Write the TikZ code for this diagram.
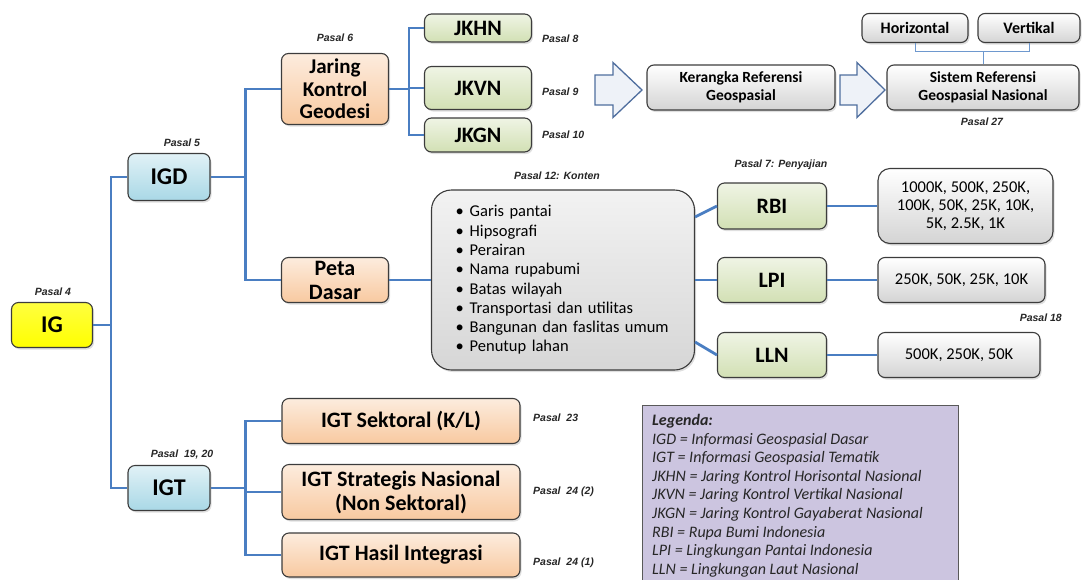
\documentclass[tikz,border=0pt]{standalone}
\usepackage{fontspec}
\setmainfont{Carlito}
\newfontfamily\pasalfont{Liberation Sans}
\usepackage{tikz}
\usetikzlibrary{shadows}
\definecolor{biruGaris}{HTML}{4A7EC2}
\definecolor{abuTepi}{HTML}{3C3C3C}
\definecolor{kuningIG}{HTML}{FFFF00}
\definecolor{biruMuda}{HTML}{A9D8E6}
\definecolor{oranyeMuda}{HTML}{F8C9A0}
\definecolor{hijauMuda}{HTML}{D2E0B4}
\definecolor{abuMuda}{HTML}{D4D4D4}
\definecolor{unguLegenda}{HTML}{CCC5E0}
\definecolor{panahIsi}{HTML}{EEF2F8}
\definecolor{panahTepi}{HTML}{4F6E9E}

\tikzset{
  kotak/.style={draw=abuTepi,line width=1.1pt,rounded corners=7pt,align=center,inner sep=0pt,
    font=\bfseries\fontsize{22}{24}\selectfont,
    drop shadow={opacity=0.25,shadow xshift=1.5pt,shadow yshift=-2pt}},
  kotakIG/.style={kotak,top color=kuningIG!75!white,bottom color=kuningIG,font=\bfseries\fontsize{24}{26}\selectfont},
  kotakBiru/.style={kotak,top color=biruMuda!35!white,bottom color=biruMuda,font=\bfseries\fontsize{24}{26}\selectfont},
  kotakOranye/.style={kotak,top color=oranyeMuda!35!white,bottom color=oranyeMuda},
  kotakHijau/.style={kotak,top color=hijauMuda!35!white,bottom color=hijauMuda},
  kotakAbu/.style={kotak,top color=white,bottom color=abuMuda,font=\bfseries\fontsize{15.5}{18.5}\selectfont},
  kotakSkala/.style={kotak,top color=white,bottom color=abuMuda,font=\fontsize{16.5}{18.3}\selectfont},
  pasal/.style={font=\pasalfont\bfseries\itshape\fontsize{10.5}{12}\selectfont,text=black!85,inner sep=0pt},
  garis/.style={draw=biruGaris,line width=2.8pt},
  garisTipis/.style={draw=biruGaris!80,line width=0.9pt},
  panah/.style={draw=panahTepi,fill=panahIsi,line width=1.3pt,line join=miter}
}

\begin{document}
\begin{tikzpicture}[x=1pt,y=-1pt]
  \path[use as bounding box] (0,0) rectangle (1082,579);
  \clip (0,0) rectangle (1082,579);

  % akar dan cabang utama
  \node[kotakIG,minimum width=81pt,minimum height=45pt] (ig) at (52,325) {IG};
  \node[kotakBiru,minimum width=82pt,minimum height=47pt] (igd) at (169,177) {IGD};
  \node[kotakBiru,minimum width=82pt,minimum height=45pt] (igt) at (169,488) {IGT};

  % IGD
  \node[kotakOranye,minimum width=107pt,minimum height=71pt,font=\bfseries\fontsize{21}{22.5}\selectfont] (jkg) at (335,89) {Jaring\\Kontrol\\Geodesi};
  \node[kotakOranye,minimum width=107pt,minimum height=45pt] (peta) at (335,280) {Peta\\Dasar};
  \node[kotakHijau,minimum width=107pt,minimum height=28pt] (jkhn) at (478,28) {JKHN};
  \node[kotakHijau,minimum width=107pt,minimum height=43pt] (jkvn) at (478,88) {JKVN};
  \node[kotakHijau,minimum width=107pt,minimum height=34pt] (jkgn) at (478,135) {JKGN};

  \coordinate (panah1) at (595,90);
  \draw[panah] (panah1) ++(0,-15) -- ++(18,0) -- ++(0,-12.5) -- ++(29,27.5) -- ++(-29,27.5)
    -- ++(0,-12.5) -- ++(-18,0) -- cycle;
  \node[kotakAbu,minimum width=188pt,minimum height=45pt] (kerangka) at (741,87.5) {Kerangka Referensi\\Geospasial};
  \coordinate (panah2) at (840,90);
  \draw[panah] (panah2) ++(0,-15) -- ++(17,0) -- ++(0,-12.5) -- ++(28,27.5) -- ++(-28,27.5)
    -- ++(0,-12.5) -- ++(-17,0) -- cycle;
  \node[kotakAbu,minimum width=192pt,minimum height=45pt] (sistem) at (983,87.5) {Sistem Referensi\\Geospasial Nasional};
  \node[kotakAbu,minimum width=106pt,minimum height=29pt,font=\bfseries\fontsize{16}{18}\selectfont] (horizontal) at (915,28) {Horizontal};
  \node[kotakAbu,minimum width=102pt,minimum height=29pt,font=\bfseries\fontsize{16}{18}\selectfont] (vertikal) at (1029,28) {Vertikal};

  \node[kotakSkala,rounded corners=20pt,minimum width=263pt,minimum height=180pt,text width=215pt,
    align=left,inner xsep=24pt,top color=white!95!black,bottom color=black!16,
    font=\fontsize{16.5}{19.3}\selectfont] (konten) at (563,280)
    {\textbullet\hspace{6pt}Garis pantai\\ \textbullet\hspace{6pt}Hipsografi\\
     \textbullet\hspace{6pt}Perairan\\ \textbullet\hspace{6pt}Nama rupabumi\\
     \textbullet\hspace{6pt}Batas wilayah\\ \textbullet\hspace{6pt}Transportasi dan utilitas\\
     \textbullet\hspace{6pt}Bangunan dan faslitas umum\\ \textbullet\hspace{6pt}Penutup lahan};
  \node[kotakHijau,minimum width=109pt,minimum height=46pt] (rbi) at (772,206) {RBI};
  \node[kotakHijau,minimum width=109pt,minimum height=45pt] (lpi) at (772,280) {LPI};
  \node[kotakHijau,minimum width=109pt,minimum height=45pt] (lln) at (772,355) {LLN};
  \node[kotakSkala,rounded corners=12pt,minimum width=175pt,minimum height=75pt] (skalaRBI) at (965.5,206) {1000K, 500K, 250K,\\100K, 50K, 25K, 10K,\\5K, 2.5K, 1K};
  \node[kotakSkala,minimum width=167pt,minimum height=45pt] (skalaLPI) at (961.5,280) {250K, 50K, 25K, 10K};
  \node[kotakSkala,minimum width=162pt,minimum height=45pt] (skalaLLN) at (959,355) {500K, 250K, 50K};

  % IGT
  \node[kotakOranye,minimum width=238pt,minimum height=45pt] (sektoral) at (401,421) {IGT Sektoral (K/L)};
  \node[kotakOranye,minimum width=238pt,minimum height=55pt] (strategis) at (401,492) {IGT Strategis Nasional\\(Non Sektoral)};
  \node[kotakOranye,minimum width=238pt,minimum height=44pt] (integrasi) at (401,555) {IGT Hasil Integrasi};

  % penghubung
  \draw[garis] (ig.east) -- ++(18,0) coordinate (cabangIG);
  \draw[garis] (igd.west) -| (cabangIG) |- (igt.west);
  \draw[garis] (igd.east) -- ++(35,0) coordinate (cabangIGD);
  \draw[garis] (jkg.west) -| (cabangIGD) |- (peta.west);
  \draw[garis] (jkg.east) -- ++(20,0) coordinate (cabangJKG);
  \draw[garis] (jkhn.west) -| (cabangJKG) |- (jkgn.west);
  \draw[garis] (cabangJKG) |- (jkvn.west);
  \draw[garis] (peta.east) -- (konten.west);
  \draw[garis] ([yshift=63pt]konten.east) -- (rbi.west);
  \draw[garis] (konten.east) -- (lpi.west);
  \draw[garis] ([yshift=-62pt]konten.east) -- (lln.west);
  \draw[garis] (rbi.east) -- (skalaRBI.west);
  \draw[garis] (lpi.east) -- (skalaLPI.west);
  \draw[garis] (lln.east) -- (skalaLLN.west);
  \draw[garis] (igt.east) -- ++(35,0) coordinate (cabangIGT);
  \draw[garis] (sektoral.west) -| (cabangIGT) |- (integrasi.west);
  \draw[garis] (cabangIGT) |- (strategis.west);
  \coordinate (simpul) at ([yshift=13pt]sistem.north);
  \draw[garisTipis] (horizontal.south) |- (simpul) -| (vertikal.south);
  \draw[garisTipis] (simpul) -- (sistem.north);

  % keterangan pasal
  \node[pasal] (p4) at (53,292) {Pasal 4};
  \node[pasal] (p5) at (182,143) {Pasal 5};
  \node[pasal] (p6) at (335,38) {Pasal 6};
  \node[pasal,anchor=west] (p8) at (542,39) {Pasal 8};
  \node[pasal,anchor=west] (p9) at (542,92) {Pasal 9};
  \node[pasal,anchor=west] (p10) at (542,135) {Pasal 10};
  \node[pasal] (p27) at (982,122) {Pasal 27};
  \node[pasal] (p12) at (557,176) {Pasal 12: Konten};
  \node[pasal] (p7) at (781,165) {Pasal 7: Penyajian};
  \node[pasal,anchor=east] (p18) at (1062,318) {Pasal 18};
  \node[pasal] (p19) at (182,455) {Pasal \ 19, 20};
  \node[pasal,anchor=west] (p23) at (533,418) {Pasal \ 23};
  \node[pasal,anchor=west] (p24b) at (533,492) {Pasal \ 24 (2)};
  \node[pasal,anchor=west] (p24a) at (533,563) {Pasal \ 24 (1)};

  % legenda
  \node[draw=black!65,fill=unguLegenda,line width=1pt,anchor=north west,minimum width=316pt,
    minimum height=190pt,inner sep=0pt] (legenda) at (642,405) {};
  \node[anchor=north west,align=left,inner sep=0pt,text=black!85,
    font=\itshape\fontsize{16}{18.6}\selectfont] (legendaTeks) at ([xshift=10pt,yshift=-9pt]legenda.north west)
    {\textbf{Legenda:}\\
     IGD = Informasi Geospasial Dasar\\
     IGT = Informasi Geospasial Tematik\\
     JKHN = Jaring Kontrol Horisontal Nasional\\
     JKVN = Jaring Kontrol Vertikal Nasional\\
     JKGN = Jaring Kontrol Gayaberat Nasional\\
     RBI = Rupa Bumi Indonesia\\
     LPI = Lingkungan Pantai Indonesia\\
     LLN = Lingkungan Laut Nasional};
\end{tikzpicture}
\end{document}
